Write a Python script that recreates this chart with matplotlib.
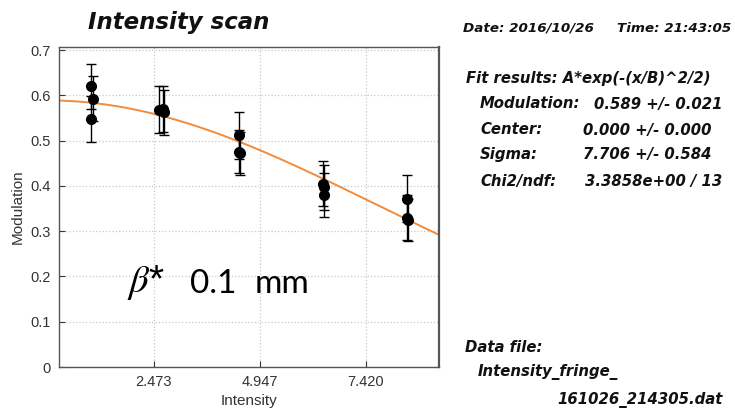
#!/usr/bin/env python3
"""
Intensity scan : modulation vs intensity with gaussian fit
"""
import numpy as np
import matplotlib
matplotlib.use("Agg")
import matplotlib.pyplot as plt

##################################
#
# Data

intensity = [1.01, 1.06, 1.01, 2.61, 2.69, 2.72, 4.47, 4.50, 4.47,
             6.43, 6.45, 6.44, 8.38, 8.39, 8.40]
modulation = [0.620, 0.593, 0.548, 0.568, 0.570, 0.563, 0.512, 0.472, 0.476,
              0.405, 0.397, 0.380, 0.372, 0.330, 0.325]
mod_err = [0.050, 0.050, 0.050, 0.052, 0.050, 0.050, 0.052, 0.048, 0.047,
           0.050, 0.050, 0.048, 0.052, 0.050, 0.046]

# Fit results A*exp(-(x/B)^2/2)
fit_A = 0.589
fit_B = 7.706

xticks = [2.473, 4.947, 7.420]
yticks = [0, 0.1, 0.2, 0.3, 0.4, 0.5, 0.6, 0.7]
ytick_labels = ["0", "0.1", "0.2", "0.3", "0.4", "0.5", "0.6", "0.7"]

##########################
# Graphics

plt.rcParams["font.family"] = ["Liberation Sans", "DejaVu Sans"]
plt.rcParams["mathtext.fontset"] = "stix"

fig = plt.figure(figsize=(7.35, 4.18), dpi=100)
ax = fig.add_axes([0.0803, 0.122, 0.517, 0.7656])

xmin, xmax = 0.27, 9.13
xfit = np.linspace(xmin, xmax, 200)
ax.plot(xfit, fit_A * np.exp(-(xfit / fit_B) ** 2 / 2), color="#f28b3c", lw=1.4, zorder=2)

ax.errorbar(intensity, modulation, yerr=mod_err, fmt="o", color="black",
            ms=7, elinewidth=1.0, capsize=3.5, capthick=1.0, zorder=3)

ax.set_xlim(xmin, xmax)
ax.set_ylim(0, 0.707)
ax.set_xticks(xticks)
ax.set_xticklabels(["%.3f" % t for t in xticks])
ax.set_yticks(yticks)
ax.set_yticklabels(ytick_labels)
ax.grid(True, color="#c8c8c8", ls=":", lw=0.9)
ax.tick_params(direction="in", length=4, labelsize=10.5, colors="#333333",
               labelcolor="#333333", pad=6)
for s in ax.spines.values():
    s.set_color("#555555")
    s.set_linewidth(1.0)
ax.spines["right"].set_linewidth(1.6)
ax.set_xlabel("Intensity", fontsize=11, color="#333333", labelpad=3)
ax.set_ylabel("Modulation", fontsize=11, color="#333333", labelpad=4)

# big annotation
fig.text(127 / 735, 1 - 292 / 418, r"$\beta$*", fontsize=28, color="black", va="baseline")
fig.text(190 / 735, 1 - 293 / 418, "0.1", fontsize=24, family="Lato", color="black", va="baseline")
fig.text(255 / 735, 1 - 293 / 418, "mm", fontsize=24, family="Lato", color="black", va="baseline")

fig.text(88 / 735, 1 - 23 / 418, "Intensity scan", fontsize=16.5, family="DejaVu Sans",
         weight="bold", style="italic", va="center", color="#111111")

##########################
# Info panel

def info(x, y, s, size=10.7):
    fig.text(x / 735, 1 - y / 418, s, fontsize=size, family="DejaVu Sans",
             weight="bold", style="italic", va="center", color="#111111")

info(463, 28, "Date: 2016/10/26", 9.7)
info(617, 28, "Time: 21:43:05", 9.7)
info(466, 78, "Fit results: A*exp(-(x/B)^2/2)")
info(480, 104, "Modulation:")
info(594, 104, "%.3f +/- 0.021" % fit_A)
info(480, 130, "Center:")
info(583, 130, "0.000 +/- 0.000")
info(480, 155, "Sigma:")
info(583, 155, "%.3f +/- 0.584" % fit_B)
info(480, 182, "Chi2/ndf:")
info(585, 182, "3.3858e+00 / 13")
info(465, 348, "Data file:")
info(478, 372, "Intensity_fringe_")
info(557, 400, "161026_214305.dat")

plt.savefig("out.png", dpi=100)
